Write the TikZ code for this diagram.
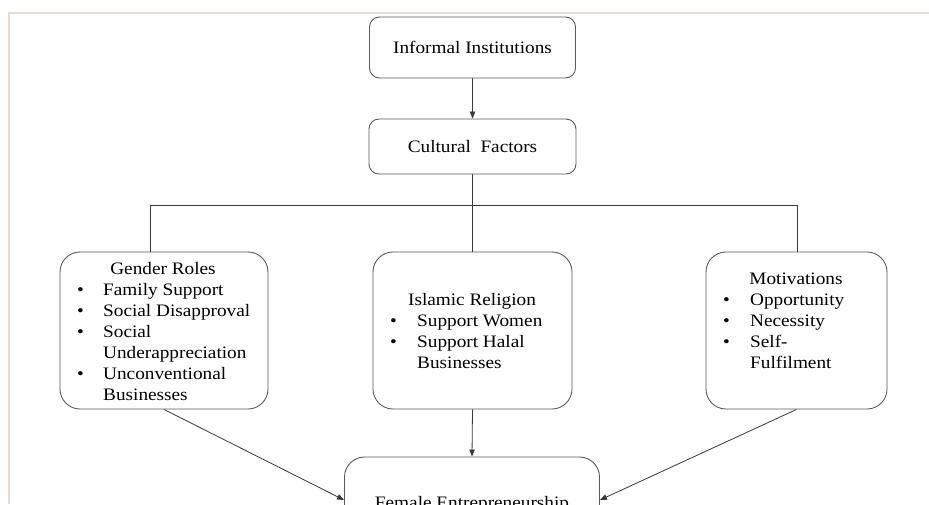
\documentclass[tikz,border=0pt]{standalone}
\usepackage{fontspec}
\setmainfont{Liberation Serif}[FakeStretch=1.1]
\usetikzlibrary{arrows.meta}
\definecolor{frameclr}{HTML}{E6DED3}
\definecolor{lineclr}{HTML}{3A3A3A}
\definecolor{boxclr}{HTML}{5A5A5A}
\begin{document}
\begin{tikzpicture}[x=1pt,y=-1pt,
  every node/.style={font=\fontsize{17.5}{21}\selectfont},
  smallbox/.style={draw=boxclr,line width=0.9pt,rounded corners=10pt,inner sep=0pt},
  bigbox/.style={draw=boxclr,line width=0.9pt,rounded corners=20pt,inner sep=0pt},
  conn/.style={draw=lineclr,line width=0.8pt},
  arr/.style={conn,-{Triangle[length=7pt,width=5.5pt]}},
  txt/.style={inner sep=0pt,anchor=base},
  lst/.style={inner sep=0pt,anchor=base west,align=left}]
\useasboundingbox (0,0) rectangle (929,504);
\clip (0,0) rectangle (929,504);
\fill[white] (0,0) rectangle (929,504);
% frame
\draw[frameclr,line width=2pt] (8.5,504) -- (8.5,12.5) -- (929,12.5);
% boxes
\node[smallbox,minimum width=206pt,minimum height=61pt] (ii) at (472.5,47.5) {Informal Institutions};
\node[smallbox,minimum width=207pt,minimum height=55pt] (cf) at (472.5,146.5) {Cultural\ \ Factors};
\node[bigbox,minimum width=208pt,minimum height=157pt] (gr) at (164,330.5) {};
\node[bigbox,minimum width=199pt,minimum height=157pt] (ir) at (472.5,330.5) {};
\node[bigbox,minimum width=181pt,minimum height=157pt] (mo) at (796.5,330.5) {};
\node[bigbox,minimum width=255pt,minimum height=86pt] (fe) at (472,500) {};
% texts
\node[txt] (grt) at (163,274) {Gender Roles};
\node[lst] (grl) at (77,295) {\begin{tabular}[t]{@{}p{26pt}@{}l@{}}
\textbullet & Family Support\\
\textbullet & Social Disapproval\\
\textbullet & Social\\
 & Underappreciation\\
\textbullet & Unconventional\\
 & Businesses
\end{tabular}};
\node[txt] (irt) at (472,305) {Islamic Religion};
\node[lst] (irl) at (390,326) {\begin{tabular}[t]{@{}p{27pt}@{}l@{}}
\textbullet & Support Women\\
\textbullet & Support Halal\\
 & Businesses
\end{tabular}};
\node[txt] (mot) at (796,284) {Motivations};
\node[lst] (mol) at (723,305) {\begin{tabular}[t]{@{}p{27pt}@{}l@{}}
\textbullet & Opportunity\\
\textbullet & Necessity\\
\textbullet & Self-\\
 & Fulfilment
\end{tabular}};
\node[txt] (fet) at (472,508) {Female Entrepreneurship};
% connectors
\draw[arr] (ii) -- (cf);
\coordinate (jm) at (472.5,205);
\coordinate (jl) at (150,205);
\coordinate (jr) at (797,205);
\draw[conn] (cf.south) -- (jm);
\draw[conn] (jl |- gr.north) -- (jl) -- (jr) -- (jr |- mo.north);
\draw[conn] (jm) -- (ir.north);
\draw[arr] (gr.south) -- (fe.west);
\draw[arr] (ir.south) -- (fe.north);
\draw[arr] (mo.south) -- (fe.east);
\end{tikzpicture}
\end{document}
